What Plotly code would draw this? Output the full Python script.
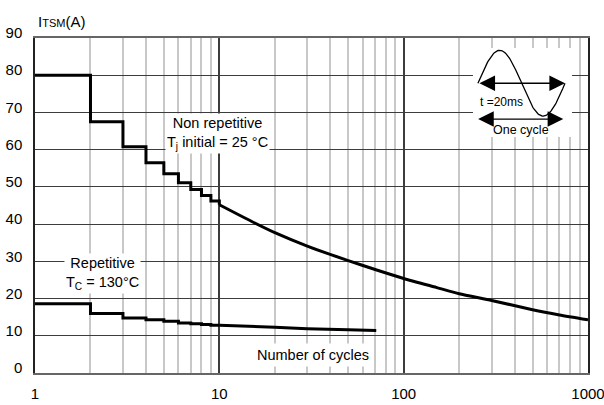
import numpy as np
import plotly.graph_objects as go

# ---- data ----
step_cycles = [1, 2, 3, 4, 5, 6, 7, 8, 9, 10]
nonrep_steps = [80, 67.5, 60.8, 56.5, 53.5, 51.1, 49.3, 47.7, 46.2, 45.2]
rep_steps = [18.6, 16.0, 14.8, 14.3, 13.9, 13.4, 13.2, 13.0, 12.8, 12.8]

nonrep_curve_cycles = [10, 15, 20, 30, 50, 70, 100, 150, 200, 300, 500, 700, 1000]
nonrep_curve_itsm = [45.2, 40.7, 37.7, 34.1, 30.2, 27.8, 25.4, 23.0, 21.3, 19.5, 17.0, 15.6, 14.3]

rep_curve_cycles = [10, 20, 30, 50, 71]
rep_curve_itsm = [12.8, 12.3, 11.9, 11.6, 11.4]

x_tick_vals = [1, 10, 100, 1000]
x_tick_text = ["1", "10", "100", "1000"]
x_minor_vals = [m * d for d in (1, 10, 100) for m in range(2, 10)]

FONT = "Arial, Liberation Sans, sans-serif"

fig = go.Figure()

line_style = dict(color="black", width=3)
fig.add_trace(go.Scatter(x=step_cycles, y=nonrep_steps, mode="lines",
                         line=dict(shape="hv", **line_style), showlegend=False, hoverinfo="skip"))
fig.add_trace(go.Scatter(x=nonrep_curve_cycles, y=nonrep_curve_itsm, mode="lines",
                         line=dict(shape="spline", smoothing=0.6, **line_style), showlegend=False, hoverinfo="skip"))
fig.add_trace(go.Scatter(x=step_cycles, y=rep_steps, mode="lines",
                         line=dict(shape="hv", **line_style), showlegend=False, hoverinfo="skip"))
fig.add_trace(go.Scatter(x=rep_curve_cycles, y=rep_curve_itsm, mode="lines",
                         line=dict(shape="spline", smoothing=0.6, **line_style), showlegend=False, hoverinfo="skip"))

# ---- inset diagram (one sine cycle) ----
inset_xr = [-0.057, 1.08]
inset_yr = [-1.63, 1.07]
fig.add_trace(go.Scatter(x=[inset_xr[0], inset_xr[1], inset_xr[1], inset_xr[0]],
                         y=[inset_yr[0], inset_yr[0], inset_yr[1], inset_yr[1]],
                         fill="toself", fillcolor="white", line=dict(width=0, color="white"),
                         mode="lines", xaxis="x2", yaxis="y2", showlegend=False, hoverinfo="skip"))
t = np.linspace(0, 1, 120)
fig.add_trace(go.Scatter(x=t, y=np.sin(2 * np.pi * t), mode="lines",
                         line=dict(color="black", width=1.3),
                         xaxis="x2", yaxis="y2", showlegend=False, hoverinfo="skip"))

arrow_common = dict(xref="x2", yref="y2", axref="x2", ayref="y2", text="", showarrow=True,
                    arrowhead=2, startarrowhead=2, arrowside="end+start",
                    arrowsize=2.4, startarrowsize=2.4, arrowwidth=1.3, arrowcolor="black",
                    standoff=0, startstandoff=0)
fig.add_annotation(x=1.0, y=0, ax=0.0, ay=0, **arrow_common)
fig.add_annotation(x=0.98, y=-1.09, ax=-0.015, ay=-1.09, **arrow_common)
fig.add_annotation(x=0.27, y=-0.56, xref="x2", yref="y2", text="t =20ms", showarrow=False,
                   font=dict(family=FONT, size=12, color="black"))
fig.add_annotation(x=0.49, y=-1.43, xref="x2", yref="y2", text="One cycle", showarrow=False,
                   font=dict(family=FONT, size=12.5, color="black"))

# ---- text labels ----
txt_font = dict(family=FONT, size=14.5, color="black")
fig.add_annotation(x=0.989, y=64.3, xref="x", yref="y", showarrow=False, align="center",
                   text="Non repetitive<br>T<sub>j</sub> initial = 25 °C",
                   bgcolor="white", font=txt_font, borderpad=1)
fig.add_annotation(x=0.364, y=26.7, xref="x", yref="y", showarrow=False, align="center",
                   text="Repetitive<br>T<sub>C</sub> = 130°C",
                   bgcolor="white", font=txt_font, borderpad=1)
fig.add_annotation(x=1.508, y=4.9, xref="x", yref="y", showarrow=False,
                   text="Number of cycles", bgcolor="white", font=txt_font, borderpad=3)
fig.add_annotation(x=0, y=1, xref="paper", yref="paper", xanchor="left", yanchor="bottom",
                   yshift=6, xshift=1, showarrow=False,
                   text="I<span style='font-size:11px'>TSM</span>(A)",
                   font=dict(family=FONT, size=15, color="black"))

fig.update_layout(
    width=604, height=405,
    margin=dict(l=35, r=16, t=38, b=32, autoexpand=False),
    paper_bgcolor="white", plot_bgcolor="white",
    font=dict(family=FONT, size=15, color="black"),
    xaxis=dict(type="log", range=[0, 3], tickmode="array", tickvals=x_tick_vals, ticktext=x_tick_text,
               ticks="", showgrid=True, gridcolor="#3c3c3c", gridwidth=1.5,
               minor=dict(tickmode="array", tickvals=x_minor_vals, showgrid=True,
                          gridcolor="#c8c8c8", gridwidth=1.5, ticks=""),
               showline=True, linecolor="#666", linewidth=1.5, mirror=True,
               ticklabelstandoff=6, ticklabeloverflow="allow", zeroline=False, automargin=False,
               tickfont=dict(family=FONT, size=15, color="black")),
    yaxis=dict(range=[0, 90], tickmode="linear", tick0=0, dtick=10, ticks="",
               showgrid=True, gridcolor="#3c3c3c", gridwidth=1,
               showline=True, linecolor="#222", linewidth=1.5, mirror=True,
               ticklabelposition="outside", ticklabelshift=-5, ticklabelstandoff=8,
               ticklabeloverflow="allow", zeroline=False, automargin=False,
               tickfont=dict(family=FONT, size=15, color="black")),
    xaxis2=dict(domain=[0.792, 0.971], range=inset_xr, visible=False, fixedrange=True),
    yaxis2=dict(domain=[0.705, 0.970], range=inset_yr, visible=False, fixedrange=True, anchor="x2"),
)
fig.update_layout(xaxis2_anchor="y2")

fig.write_html("out.html", config={"displayModeBar": False},
               post_script="document.body.style.margin='0px';document.body.style.overflow='hidden';")
